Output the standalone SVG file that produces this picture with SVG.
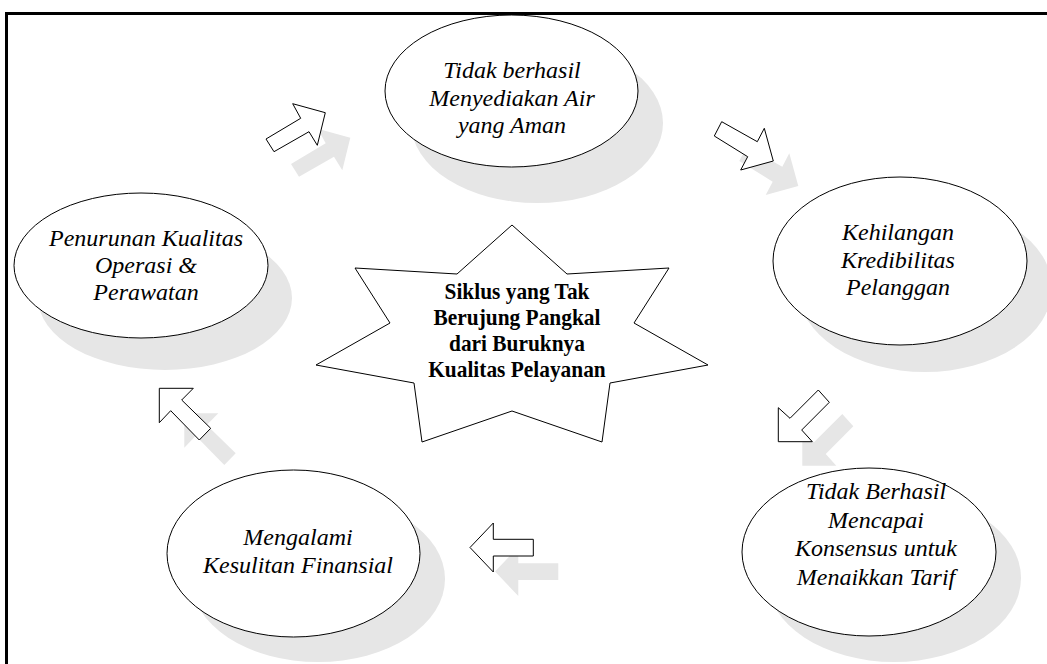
<svg xmlns="http://www.w3.org/2000/svg" width="1047" height="664" viewBox="0 0 1047 664">
<style>
.shadow{fill:#e6e6e6;stroke:none}
.node{fill:#ffffff;stroke:#000000;stroke-width:1}
.arrow{fill:#ffffff;stroke:#000000;stroke-width:1;stroke-linejoin:miter}
.lbl{font-family:"Liberation Serif","Times New Roman",serif;font-style:italic;font-size:24px;fill:#000;text-anchor:middle}
.star{font-family:"Liberation Serif","Times New Roman",serif;font-weight:bold;font-size:23px;fill:#000;text-anchor:middle}
.frame{stroke:#000;stroke-width:3;fill:none}
</style>
<defs>
<polygon id="a1" points="266,139 300.7,118.3 292.7,103.7 325.3,112.7 317.3,145.3 309,131.7 274,151.7"/>
<polygon id="a2" points="721.7,121.7 757.3,141.7 764.3,128.3 773.3,161 740.7,170 747.7,156.7 714.3,136"/>
<polygon id="a3" points="818.3,390 829.3,402.3 801.7,430 812.3,441.7 778.3,441.7 778.3,407.7 790,418.3"/>
<polygon id="a4" points="470,547.5 493.3,523 493.3,539.3 533.3,539.3 533.3,556 493.3,556 493.3,572"/>
<polygon id="a5" points="159.3,388.3 193.3,388.3 181.7,400 210.7,428.3 199.3,440 170.7,410.7 159.3,422.7"/>
</defs>
<rect width="1047" height="664" fill="#ffffff"/>
<path class="frame" d="M6.5,664 V13.5 H1047"/>
<g id="shadows">
<ellipse class="shadow" cx="537" cy="123" rx="126" ry="80"/>
<ellipse class="shadow" cx="165" cy="298" rx="127" ry="72"/>
<ellipse class="shadow" cx="925" cy="288" rx="127" ry="84"/>
<ellipse class="shadow" cx="318" cy="579" rx="127" ry="83"/>
<ellipse class="shadow" cx="894" cy="578" rx="127" ry="84"/>
</g>
<g id="connectors">
<use href="#a1" class="shadow" transform="translate(25,25)"/>
<use href="#a2" class="shadow" transform="translate(25,25)"/>
<use href="#a3" class="shadow" transform="translate(24,24)"/>
<use href="#a4" class="shadow" transform="translate(25,24)"/>
<use href="#a5" class="shadow" transform="translate(25,25)"/>
<use href="#a1" class="arrow"/>
<use href="#a2" class="arrow"/>
<use href="#a3" class="arrow"/>
<use href="#a4" class="arrow"/>
<use href="#a5" class="arrow"/>
</g>
<g id="node-top">
<ellipse class="node" cx="511.5" cy="91" rx="126.5" ry="76"/>
<text class="lbl" x="512" y="78">Tidak berhasil</text>
<text class="lbl" x="512" y="106">Menyediakan Air</text>
<text class="lbl" x="512" y="133">yang Aman</text>
</g>
<g id="node-right">
<ellipse class="node" cx="900" cy="261" rx="127" ry="84"/>
<text class="lbl" x="898" y="240">Kehilangan</text>
<text class="lbl" x="898" y="268">Kredibilitas</text>
<text class="lbl" x="898" y="295">Pelanggan</text>
</g>
<g id="node-bottom-right">
<ellipse class="node" cx="869" cy="552" rx="127" ry="84"/>
<text class="lbl" x="876" y="499">Tidak Berhasil</text>
<text class="lbl" x="876" y="528">Mencapai</text>
<text class="lbl" x="876" y="556">Konsensus untuk</text>
<text class="lbl" x="876" y="585">Menaikkan Tarif</text>
</g>
<g id="node-bottom-left">
<ellipse class="node" cx="293.5" cy="553.5" rx="126.5" ry="83.5"/>
<text class="lbl" x="298" y="545">Mengalami</text>
<text class="lbl" x="298" y="573">Kesulitan Finansial</text>
</g>
<g id="node-left">
<ellipse class="node" cx="141" cy="265.5" rx="127" ry="72.5"/>
<text class="lbl" x="146" y="246">Penurunan Kualitas</text>
<text class="lbl" x="146" y="273">Operasi &amp;</text>
<text class="lbl" x="146" y="300">Perawatan</text>
</g>
<g id="node-center">
<polygon class="node" points="512,225 567,274 669,268 634,323 708,365 610,383 602,442 512,411 422,442 414,383 316,365 390,323 355,268 457,274"/>
<g transform="translate(517,0) scale(0.93,1)">
<text class="star" x="0" y="299">Siklus yang Tak</text>
<text class="star" x="0" y="325">Berujung Pangkal</text>
<text class="star" x="0" y="351">dari Buruknya</text>
<text class="star" x="0" y="377">Kualitas Pelayanan</text>
</g>
</g>
</svg>
